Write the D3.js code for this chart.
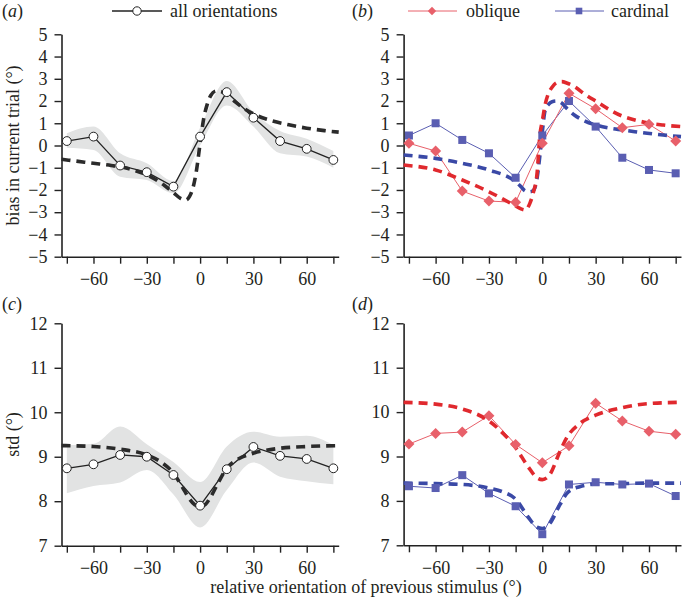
<!DOCTYPE html>
<html>
<head>
<meta charset="utf-8">
<script src="https://cdn.jsdelivr.net/npm/d3@7"></script>
<style>
  html, body { margin: 0; padding: 0; background: #fff; }
  svg text { font-family: "Liberation Serif", "Times New Roman", serif; fill: #231f20; }
</style>
</head>
<body>
<svg id="chart" width="684" height="598"></svg>
<script>
// ---------- data ----------
const orientations = [-75, -60, -45, -30, -15, 0, 15, 30, 45, 60, 75];
const xTickValues = [-75, -60, -45, -30, -15, 0, 15, 30, 45, 60, 75];
const xTickLabels = [-60, -30, 0, 30, 60];
const biasTicks = [-5, -4, -3, -2, -1, 0, 1, 2, 3, 4, 5];
const stdTicks = [7, 8, 9, 10, 11, 12];

// (a) bias, all orientations
const biasAll     = [0.2, 0.4, -0.9, -1.2, -1.85, 0.4, 2.4, 1.25, 0.2, -0.15, -0.65];
const biasAllLow  = [-0.1, -0.2, -1.4, -1.55, -2.15, 0.0, 1.8, 0.85, -0.35, -0.5, -1.0];
const biasAllHigh = [0.55, 0.85, -0.35, -0.8, -1.6, 0.8, 2.9, 1.5, 0.65, 0.3, -0.25];
const modelX_a    = [-78, -70, -60, -50, -40, -30, -20, -15, -11, -8, -6, -4, -2, 0, 2, 4, 6, 9, 12, 15, 20, 25, 30, 40, 50, 60, 70, 78];
const modelBiasAll= [-0.62, -0.7, -0.8, -0.9, -1.05, -1.32, -1.8, -2.12, -2.38, -2.45, -2.3, -1.9, -1.1, 0.1, 1.2, 1.85, 2.25, 2.45, 2.42, 2.3, 1.95, 1.65, 1.42, 1.12, 0.93, 0.78, 0.67, 0.6];

// (b) bias, oblique vs cardinal
const biasObl  = [0.1, -0.25, -2.05, -2.5, -2.55, 0.1, 2.35, 1.65, 0.8, 0.95, 0.2];
const biasCard = [0.45, 1.0, 0.25, -0.35, -1.45, 0.45, 2.0, 0.85, -0.55, -1.1, -1.25];
const modelX_b     = [-78, -60, -45, -30, -15, -12, -9.5, -7, -5, -3, -1.3, 0, 1.5, 3.5, 5.5, 8, 11, 14, 18, 24, 31, 38, 45, 52, 59, 68, 78];
const modelBiasObl = [-0.88, -1.1, -1.55, -2.08, -2.72, -2.85, -2.9, -2.6, -2.1, -1.3, 0.5, 1.1, 1.8, 2.35, 2.62, 2.82, 2.87, 2.8, 2.65, 2.3, 1.95, 1.6, 1.32, 1.15, 1.02, 0.92, 0.85];
const modelBiasCard= [-0.43, -0.58, -0.8, -1.1, -1.63, -1.85, -2.05, -2.08, -2.02, -1.5, -0.4, 0.6, 1.55, 1.85, 1.97, 2.0, 1.9, 1.65, 1.37, 1.1, 0.9, 0.78, 0.7, 0.62, 0.55, 0.47, 0.4];

// (c) std, all orientations
const stdAll     = [8.74, 8.83, 9.04, 9.0, 8.59, 7.9, 8.72, 9.22, 9.02, 8.95, 8.74];
const stdAllLow  = [8.18, 8.34, 8.42, 8.7, 8.15, 7.41, 8.25, 8.87, 8.55, 8.45, 8.38];
const stdAllHigh = [9.26, 9.29, 9.68, 9.28, 8.88, 8.43, 9.23, 9.56, 9.45, 9.47, 9.26];
const modelX_c   = [-78, -60, -45, -30, -22, -15, -10, -6, -3, 0, 3, 6, 10, 15, 22, 30, 45, 60, 78];
const modelStdAll= [9.25, 9.23, 9.17, 9.04, 8.88, 8.63, 8.32, 8.05, 7.92, 7.88, 7.93, 8.1, 8.4, 8.74, 8.96, 9.08, 9.19, 9.23, 9.25];

// (d) std, oblique vs cardinal
const stdObl  = [9.28, 9.52, 9.55, 9.92, 9.27, 8.86, 9.24, 10.2, 9.8, 9.57, 9.5];
const stdCard = [8.33, 8.29, 8.58, 8.17, 7.88, 7.25, 8.37, 8.42, 8.37, 8.39, 8.11];
const modelX_d    = [-78, -60, -45, -30, -22, -15, -8, -3, 0, 4, 10, 14, 21, 30, 45, 59, 78];
const modelStdObl = [10.22, 10.18, 10.07, 9.8, 9.52, 9.2, 8.77, 8.52, 8.48, 8.58, 9.12, 9.44, 9.74, 9.93, 10.1, 10.19, 10.22];
const modelStdCard= [8.4, 8.39, 8.37, 8.29, 8.2, 8.04, 7.64, 7.41, 7.38, 7.48, 7.92, 8.18, 8.32, 8.38, 8.39, 8.4, 8.4];

// ---------- styling ----------
const COL_DARK = "#222";
const COL_RED = "#e8606a";
const COL_RED_DASH = "#e0292e";
const COL_BLUE = "#5a5eb2";
const COL_BLUE_DASH = "#3a49a6";
const COL_BAND = "#e2e3e3";
const FONT = 18;

const svg = d3.select("#chart");

function makePanel(xRange, yDomain, yRange, yTicks) {
  const x = d3.scaleLinear().domain([-78, 78]).range(xRange);
  const y = d3.scaleLinear().domain(yDomain).range(yRange);
  const g = svg.append("g");
  const xAxis = d3.axisBottom(x).tickValues(xTickValues).tickSize(7).tickSizeOuter(0).tickPadding(9)
    .tickFormat(d => xTickLabels.includes(d) ? d3.format("d")(d) : "");
  const yAxis = d3.axisLeft(y).tickValues(yTicks).tickSize(7).tickSizeOuter(0).tickPadding(7)
    .tickFormat(d3.format("d"));
  const gx = g.append("g").attr("transform", `translate(0,${yRange[0]})`).call(xAxis);
  const gy = g.append("g").attr("transform", `translate(${xRange[0]},0)`).call(yAxis);
  [gx, gy].forEach(a => {
    a.selectAll("path.domain").attr("stroke", COL_DARK).attr("stroke-width", 1.6);
    a.selectAll(".tick line").attr("stroke", COL_DARK).attr("stroke-width", 1.4);
    a.selectAll(".tick text").style("font-size", FONT + "px").attr("fill", "#231f20")
      .style("font-family", '"Liberation Serif", serif');
  });
  return { g, x, y };
}

function band(p, xs, lo, hi, curve) {
  const area = d3.area().x((d, i) => p.x(xs[i])).y0((d, i) => p.y(lo[i])).y1((d, i) => p.y(hi[i])).curve(curve);
  p.g.insert("path", ":first-child").datum(xs).attr("d", area).attr("fill", COL_BAND).attr("stroke", "none");
}

function dashed(p, xs, ys, color) {
  const line = d3.line().x((d, i) => p.x(xs[i])).y((d, i) => p.y(ys[i])).curve(d3.curveMonotoneX);
  p.g.append("path").datum(xs).attr("d", line).attr("fill", "none").attr("stroke", color)
    .attr("stroke-width", 3.6).attr("stroke-dasharray", "9,6");
}

function series(p, ys, color, width) {
  const line = d3.line().x((d, i) => p.x(orientations[i])).y((d, i) => p.y(ys[i]));
  p.g.append("path").datum(orientations).attr("d", line).attr("fill", "none")
    .attr("stroke", color).attr("stroke-width", width);
}

function circles(p, ys) {
  p.g.selectAll(null).data(orientations).enter().append("circle")
    .attr("cx", d => p.x(d)).attr("cy", (d, i) => p.y(ys[i])).attr("r", 4.4)
    .attr("fill", "#fff").attr("stroke", COL_DARK).attr("stroke-width", 1);
}
function diamondPath(h) { return `M0,${-h}L${h},0L0,${h}L${-h},0Z`; }
function diamonds(p, ys, h) {
  p.g.selectAll(null).data(orientations).enter().append("path")
    .attr("d", diamondPath(h))
    .attr("transform", (d, i) => `translate(${p.x(d)},${p.y(ys[i])})`)
    .attr("fill", COL_RED);
}
function squares(p, ys, s) {
  p.g.selectAll(null).data(orientations).enter().append("rect")
    .attr("x", d => p.x(d) - s / 2).attr("y", (d, i) => p.y(ys[i]) - s / 2)
    .attr("width", s).attr("height", s).attr("fill", COL_BLUE);
}

// ---------- panels ----------
const pa = makePanel([61.5, 338.7], [-5, 5], [256.7, 34.3], biasTicks);
const pb = makePanel([403.6, 681], [-5, 5], [256.7, 34.3], biasTicks);
const pc = makePanel([61.5, 338.7], [7, 12], [545.7, 323.3], stdTicks);
const pd = makePanel([403.6, 681], [7, 12], [545.3, 323.3], stdTicks);

// (a)
band(pa, orientations, biasAllLow, biasAllHigh, d3.curveMonotoneX);
series(pa, biasAll, COL_DARK, 1.3);
dashed(pa, modelX_a, modelBiasAll, "#2b2b2b");
circles(pa, biasAll);

// (b)
series(pb, biasCard, COL_BLUE, 1);
series(pb, biasObl, COL_RED, 1);
dashed(pb, modelX_b, modelBiasCard, COL_BLUE_DASH);
dashed(pb, modelX_b, modelBiasObl, COL_RED_DASH);
squares(pb, biasCard, 8);
diamonds(pb, biasObl, 5.5);

// (c)
band(pc, orientations, stdAllLow, stdAllHigh, d3.curveMonotoneX);
series(pc, stdAll, COL_DARK, 1.3);
dashed(pc, modelX_c, modelStdAll, "#2b2b2b");
circles(pc, stdAll);

// (d)
series(pd, stdCard, COL_BLUE, 1);
series(pd, stdObl, COL_RED, 1);
dashed(pd, modelX_d, modelStdCard, COL_BLUE_DASH);
dashed(pd, modelX_d, modelStdObl, COL_RED_DASH);
squares(pd, stdCard, 8);
diamonds(pd, stdObl, 5.5);

// ---------- labels ----------
function panelLabel(x, y, letter) {
  const t = svg.append("text").attr("x", x).attr("y", y).style("font-size", FONT + "px");
  t.append("tspan").text("(");
  t.append("tspan").style("font-style", "italic").text(letter);
  t.append("tspan").text(")");
}
panelLabel(2, 17, "a");
panelLabel(352, 17, "b");
panelLabel(2, 310, "c");
panelLabel(352, 310, "d");

svg.append("text").attr("transform", `translate(19,${(256.7 + 34.3) / 2}) rotate(-90)`)
  .attr("text-anchor", "middle").style("font-size", FONT + "px").text("bias in current trial (°)");
svg.append("text").attr("transform", `translate(19,${(545.7 + 323.3) / 2}) rotate(-90)`)
  .attr("text-anchor", "middle").style("font-size", FONT + "px").text("std (°)");
svg.append("text").attr("x", 366).attr("y", 593).attr("text-anchor", "middle")
  .style("font-size", FONT + "px").text("relative orientation of previous stimulus (°)");

// ---------- legends ----------
const leg = svg.append("g");
const LY = 11;
leg.append("line").attr("x1", 112).attr("x2", 162).attr("y1", LY).attr("y2", LY).attr("stroke", COL_DARK).attr("stroke-width", 1.3);
leg.append("circle").attr("cx", 137).attr("cy", LY).attr("r", 4.2).attr("fill", "#fff").attr("stroke", COL_DARK).attr("stroke-width", 1);
leg.append("text").attr("x", 170).attr("y", 17).style("font-size", FONT + "px").text("all orientations");

leg.append("line").attr("x1", 408).attr("x2", 457).attr("y1", LY).attr("y2", LY).attr("stroke", COL_RED).attr("stroke-width", 1);
leg.append("path").attr("d", diamondPath(4.2)).attr("transform", `translate(432,${LY})`).attr("fill", COL_RED);
leg.append("text").attr("x", 466).attr("y", 17).style("font-size", FONT + "px").text("oblique");

leg.append("line").attr("x1", 555).attr("x2", 604).attr("y1", LY).attr("y2", LY).attr("stroke", COL_BLUE).attr("stroke-width", 1);
leg.append("rect").attr("x", 579 - 3.3).attr("y", LY - 3.3).attr("width", 6.6).attr("height", 6.6).attr("fill", COL_BLUE);
leg.append("text").attr("x", 611).attr("y", 17).style("font-size", FONT + "px").text("cardinal");
</script>
</body>
</html>
